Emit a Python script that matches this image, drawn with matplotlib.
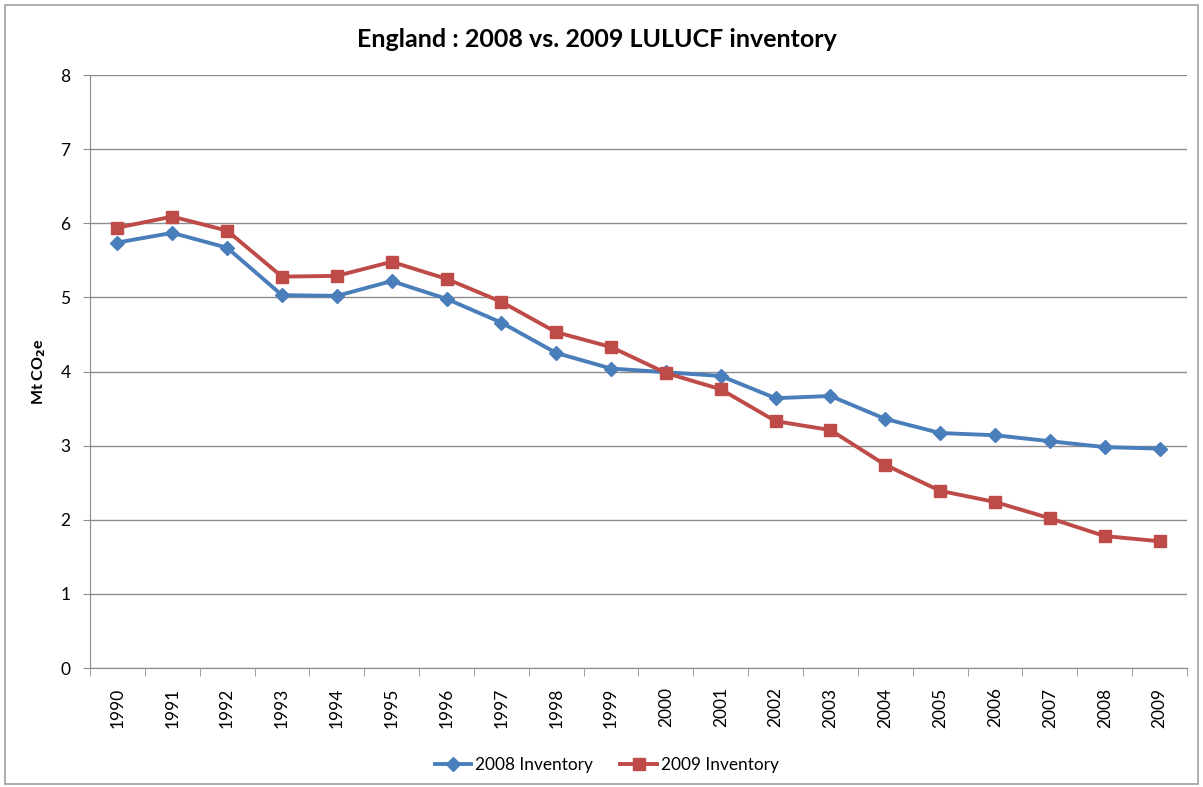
import matplotlib.pyplot as plt
import numpy as np
from matplotlib.patches import Rectangle

plt.rcParams['font.family'] = ['Lato', 'DejaVu Sans']

years = [str(y) for y in range(1990, 2010)]
inv2008 = [5.74, 5.87, 5.67, 5.03, 5.02, 5.22, 4.98, 4.66, 4.25, 4.04,
           3.99, 3.94, 3.64, 3.67, 3.36, 3.17, 3.14, 3.06, 2.98, 2.96]
inv2009 = [5.94, 6.09, 5.90, 5.28, 5.29, 5.48, 5.25, 4.94, 4.53, 4.33,
           3.98, 3.76, 3.33, 3.21, 2.74, 2.39, 2.24, 2.02, 1.78, 1.71]

fig = plt.figure(figsize=(12.03, 7.87), dpi=100)
fig.patches.append(Rectangle((0.004, 0.004), 0.992, 0.990, transform=fig.transFigure,
                             fill=False, edgecolor='#a0a0a0', linewidth=1.2))
ax = fig.add_axes([0.0748, 0.1512, 0.9119, 0.7535])

x = np.arange(len(years))
ax.plot(x, inv2008, color='#4A7EBB', lw=2.8, marker='D', ms=7, label='2008 Inventory', zorder=3)
ax.plot(x, inv2009, color='#BE4B48', lw=2.8, marker='s', ms=8, label='2009 Inventory', zorder=3)

ax.set_xlim(-0.5, len(years) - 0.5)
ax.set_ylim(0, 8)
ax.set_yticks(range(0, 9))
ax.yaxis.grid(True, color='#8c8c8c', lw=1)
ax.set_axisbelow(True)

ax.set_xticks(x)
ax.set_xticklabels(years, rotation=90, fontsize=12.5)
ax.tick_params(axis='x', which='major', length=0, pad=14)
ax.set_xticks(np.arange(-0.5, len(years)), minor=True)
ax.tick_params(axis='x', which='minor', length=6, color='#8c8c8c', direction='out')
ax.tick_params(axis='y', length=5, color='#8c8c8c', labelsize=12.5, pad=9)

for s in ['top', 'right']:
    ax.spines[s].set_visible(False)
for s in ['left', 'bottom']:
    ax.spines[s].set_color('#8c8c8c')

ax.set_ylabel('Mt CO$_\\mathbf{2}$e', fontsize=11.5, fontweight='bold', labelpad=9)
ax.set_title('England : 2008 vs. 2009 LULUCF inventory', fontsize=18, fontweight='bold', pad=20, x=0.462)
ax.legend(loc='center', bbox_to_anchor=(0.471, -0.164), ncol=2, frameon=False, fontsize=12.4,
          handlelength=2.1, handletextpad=0.25, columnspacing=1.6)

plt.savefig('out.png', dpi=100)
